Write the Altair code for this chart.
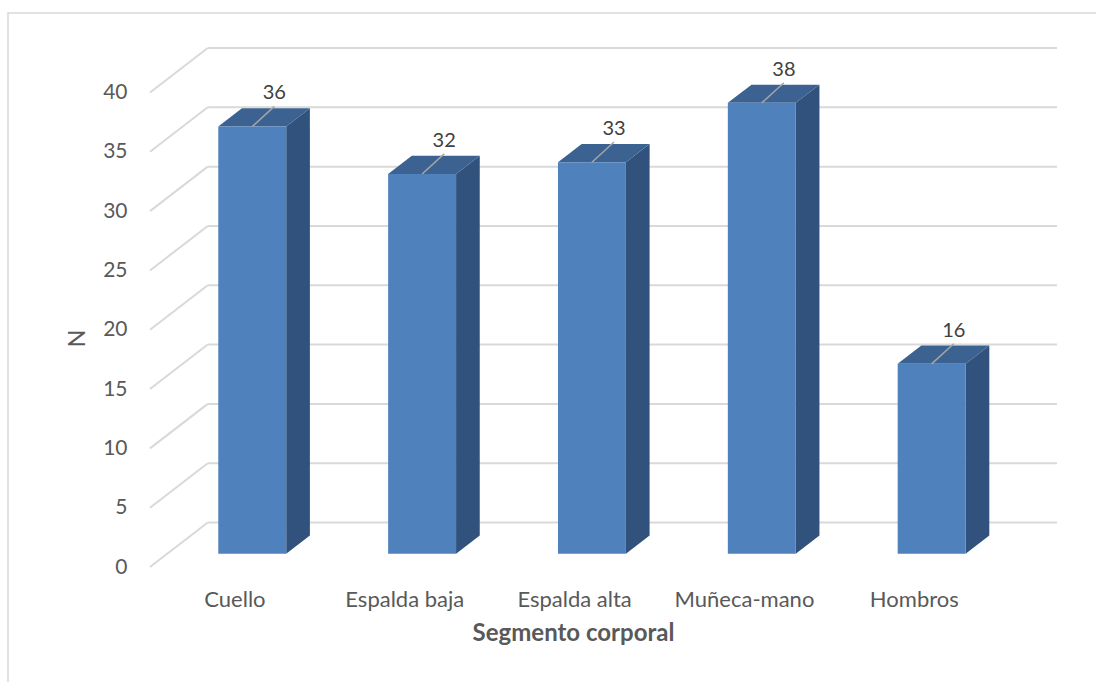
import altair as alt
import pandas as pd

# ---- data ----
categories = ["Cuello", "Espalda baja", "Espalda alta", "Muñeca-mano", "Hombros"]
values = [36, 32, 33, 38, 16]
y_ticks = [0, 5, 10, 15, 20, 25, 30, 35, 40]

# ---- 3D styling constants (in axis units) ----
DX = 0.34      # depth shift of the back wall, x (category units)
DY = 3.75      # depth shift of the back wall, y (value units)
F1 = 0.30      # depth fraction of bar front face
F2 = 0.71      # depth fraction of bar back face
HW = 0.20      # half width of a bar (category units)
LEAD_X, LEAD_Y = 0.13, 1.7

FONT = "Lato"

xs = alt.Scale(domain=[0, len(categories) + DX], nice=False, zero=False)
ys = alt.Scale(domain=[0, max(y_ticks) + DY], nice=False, zero=False)

# back wall gridlines + diagonal floor lines
grid = pd.DataFrame({"v": y_ticks})
grid["xb1"] = DX
grid["xb2"] = len(categories) + DX
grid["yb"] = grid["v"] + DY
grid["xf"] = 0.0

# bar geometry built from values
rows_front, rows_side, rows_top, rows_lab = [], [], [], []
for k, (c, v) in enumerate(zip(categories, values)):
    xc = k + 0.5
    xl = xc - HW + F1 * DX
    xr = xc + HW + F1 * DX
    b1, b2 = F1 * DY, F2 * DY
    ddx = (F2 - F1) * DX
    rows_front.append({"cat": c, "x": xl, "x2": xr, "y": b1, "y2": v + b1})
    rows_side.append({"cat": c, "x": xr, "y": b1, "y2": v + b1})
    rows_side.append({"cat": c, "x": xr + ddx, "y": b2, "y2": v + b2})
    rows_top.append({"cat": c, "y": v + b1, "x": xl, "x2": xr})
    rows_top.append({"cat": c, "y": v + b2, "x": xl + ddx, "x2": xr + ddx})
    xm = xc + F1 * DX
    rows_lab.append({"cat": c, "val": v, "xc": xc, "x0": xm, "y0": v + b1,
                     "x1": xm + LEAD_X, "y1": v + b1 + LEAD_Y, "zero": 0})

front = pd.DataFrame(rows_front)
side = pd.DataFrame(rows_side)
top = pd.DataFrame(rows_top)
lab = pd.DataFrame(rows_lab)

GRID_COL = "#D9D9D9"
TXT = "#595959"

border = alt.Chart(pd.DataFrame({"a": [0]})).mark_rect(
    fill=None, stroke=GRID_COL, strokeWidth=1.5
).encode(
    x=alt.value(8 - 150), x2=alt.value(1096 - 150 + 10),
    y=alt.value(13 - 48), y2=alt.value(682 - 48 + 10)
)

back = alt.Chart(grid).mark_rule(color=GRID_COL, strokeWidth=2).encode(
    x=alt.X("xb1:Q", scale=xs, axis=alt.Axis(
        title="Segmento corporal", labels=False, ticks=False, domain=False, grid=False,
        titleX=423, titleY=73, titleBaseline="alphabetic", titleFont=FONT,
        titleFontSize=24, titleFontWeight="bold", titleColor=TXT)),
    x2="xb2:Q",
    y=alt.Y("yb:Q", scale=ys, axis=alt.Axis(
        title="N", values=y_ticks, ticks=False, tickSize=0, domain=False, grid=False,
        labelPadding=23, labelFont=FONT, labelFontSize=21, labelColor=TXT,
        titleX=-73, titleY=290, titleBaseline="middle", titleFont=FONT,
        titleFontSize=23, titleFontWeight="normal", titleColor=TXT)),
)

diag = alt.Chart(grid).mark_rule(color=GRID_COL, strokeWidth=2).encode(
    x=alt.X("xf:Q", scale=xs), x2="xb1:Q",
    y=alt.Y("v:Q", scale=ys), y2="yb:Q",
)

side_l = alt.Chart(side).mark_area(orient="vertical", color="#30527C").encode(
    x=alt.X("x:Q", scale=xs), y=alt.Y("y:Q", scale=ys, stack=None), y2="y2:Q",
    detail="cat:N",
)

top_l = alt.Chart(top).mark_area(orient="horizontal", color="#3C6291").encode(
    y=alt.Y("y:Q", scale=ys), x=alt.X("x:Q", scale=xs, stack=None), x2="x2:Q",
    detail="cat:N",
)

front_l = alt.Chart(front).mark_rect(color="#4F81BD").encode(
    x=alt.X("x:Q", scale=xs), x2="x2:Q",
    y=alt.Y("y:Q", scale=ys), y2="y2:Q",
)

leader = alt.Chart(lab).mark_rule(color="#A6A6A6", strokeWidth=1.5).encode(
    x=alt.X("x0:Q", scale=xs), x2="x1:Q",
    y=alt.Y("y0:Q", scale=ys), y2="y1:Q",
)

val_text = alt.Chart(lab).mark_text(
    font=FONT, fontSize=20, color="#404040", baseline="alphabetic", dy=-7
).encode(
    x=alt.X("x1:Q", scale=xs), y=alt.Y("y1:Q", scale=ys), text="val:Q"
)

cat_text = alt.Chart(lab).mark_text(
    font=FONT, fontSize=22, color=TXT, baseline="alphabetic", dy=40
).encode(
    x=alt.X("xc:Q", scale=xs), y=alt.Y("zero:Q", scale=ys), text="cat:N"
)

chart = alt.layer(
    border, back, diag, side_l, top_l, front_l, leader, val_text, cat_text
).properties(
    width=907, height=519,
    padding={"left": 150, "top": 48, "right": 39, "bottom": 115},
    autosize=alt.AutoSizeParams(type="none"),
    background="white",
).configure_view(stroke=None, strokeWidth=0)

chart.save("out.html", embed_options={"renderer": "svg", "actions": False})
